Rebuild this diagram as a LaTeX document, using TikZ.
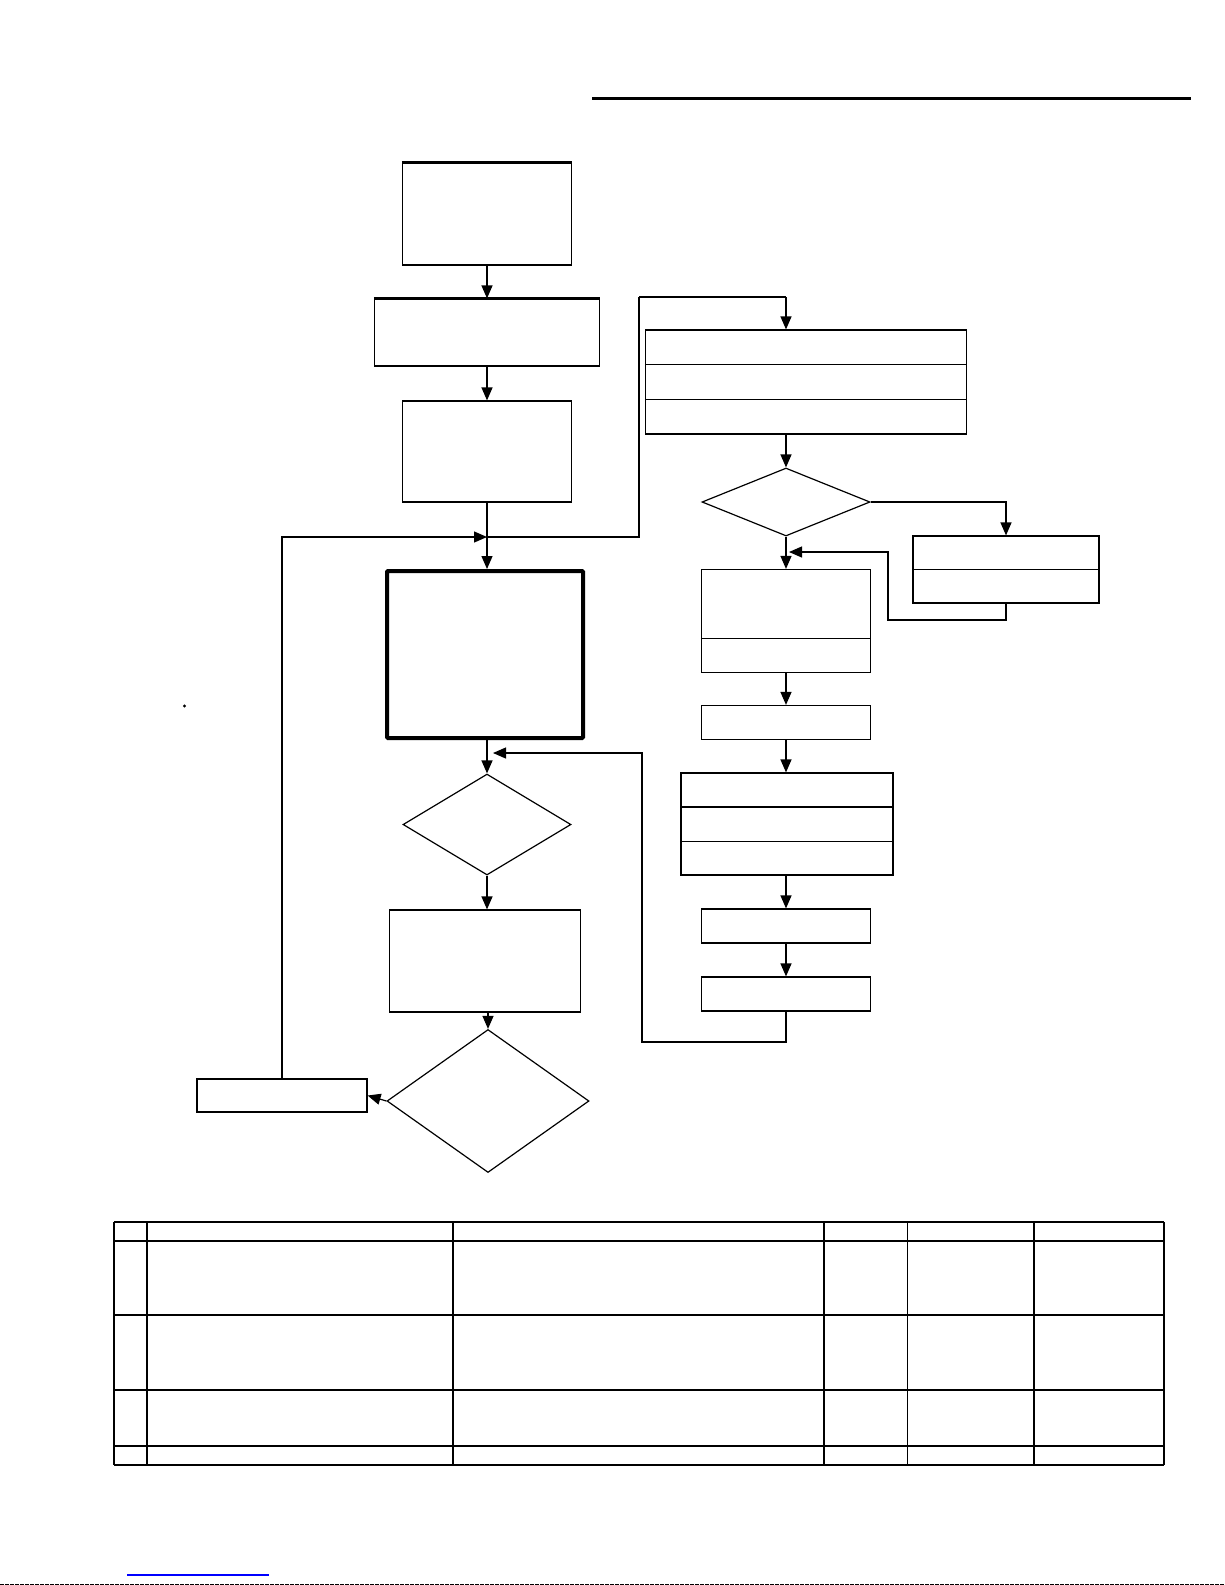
\documentclass[tikz,border=0pt]{standalone}
\usetikzlibrary{arrows.meta}
\usetikzlibrary{shapes.geometric}
\usetikzlibrary{calc}
\tikzset{>={Triangle[length=13pt,width=11pt]}}
\tikzset{
  box/.style={draw, line width=1.2pt, inner sep=0pt},
  test/.style={draw, diamond, line width=1.2pt, inner sep=0pt},
  link/.style={line width=1.2pt},
  heavy/.style={line width=2.2pt}
}

\begin{document}
\begin{tikzpicture}[x=1pt, y=-1pt]
      \useasboundingbox (0,0) rectangle (1225,1585);
      % rule at the top
      \draw[line width=3pt] (592,98) -- (1191,98);
      % left column
      \node[box, minimum width=169pt, minimum height=102pt] (start) at (487,214) {};
      \node[box, minimum width=225pt, minimum height=67pt] (prep) at (487,332.5) {};
      \node[box, minimum width=169pt, minimum height=101pt] (load) at (487,451.5) {};
      \node[box, line width=4pt, rounded corners=1pt, minimum width=196pt, minimum height=167pt] (run) at (485,654.5) {};
      \node[test, minimum width=168pt, minimum height=101pt] (check) at (487,824.5) {};
      \node[box, minimum width=191pt, minimum height=102pt] (measure) at (485,961) {};
      \node[test, minimum width=202pt, minimum height=143pt] (decide) at (488,1101) {};
      \node[box, minimum width=170pt, minimum height=33pt] (retry) at (282,1095.5) {};
      \draw[heavy] (start.north west) -- (start.north east);
      \draw[heavy] (prep.north west) -- (prep.north east);
      % right column
      \node[box, minimum width=321pt, minimum height=104pt] (setup) at (806,382) {};
      \node[test, minimum width=168pt, minimum height=68pt] (ask) at (786,502) {};
      \node[box, minimum width=186pt, minimum height=67pt] (fix) at (1006,569.5) {};
      \node[box, minimum width=169pt, minimum height=103pt] (adjust) at (786,621) {};
      \node[box, minimum width=169pt, minimum height=34pt] (trim) at (786,722.5) {};
      \node[box, minimum width=212pt, minimum height=102pt] (steps) at (787,824) {};
      \node[box, minimum width=169pt, minimum height=34pt] (store) at (786,926) {};
      \node[box, minimum width=169pt, minimum height=34pt] (finish) at (786,994) {};
      % dividers
      \foreach \f in {1/3, 2/3} {
        \draw[link] ($(setup.north west)!\f!(setup.south west)$) -- ($(setup.north east)!\f!(setup.south east)$);
      }
      \draw[heavy] ($(steps.north west)!1/3!(steps.south west)$) -- ($(steps.north east)!1/3!(steps.south east)$);
      \draw[link] ($(steps.north west)!2/3!(steps.south west)$) -- ($(steps.north east)!2/3!(steps.south east)$);
      \draw[link] (fix.west) -- (fix.east);
      \draw[link] ($(adjust.north west)!2/3!(adjust.south west)$) -- ($(adjust.north east)!2/3!(adjust.south east)$);
      % joins
      \coordinate (joinA) at (487,537);
      \coordinate (loopR) at (639,297);
      \coordinate (topR) at (786,297);
      \coordinate (joinB) at (493,753);
      \coordinate (backB) at (642,1042);
      \coordinate (joinC) at (789,552);
      \coordinate (backC) at (888,620);
      % arrows
      \draw[link, ->] (start) -- (prep);
      \draw[link, ->] (prep) -- (load);
      \draw[link, ->] (load.south) -- (load.south |- run.north);
      \draw[link, ->] (check.north |- run.south) -- (check.north);
      \draw[link, ->] (check.south) -- (measure.north -| check.south);
      \draw[link, ->] (measure.south -| decide.north) -- (decide.north);
      \draw[link, ->] (decide.west) -- (retry.east);
      \draw[link, ->] (retry.north) |- (joinA);
      \draw[link] (joinA) -| (loopR);
      \draw[heavy] (loopR) -- (topR);
      \draw[link, ->] (topR) -- (topR |- setup.north);
      \draw[link, ->] (setup.south -| ask.north) -- (ask.north);
      \draw[link, ->] (ask.east) -| (fix.north);
      \draw[link, ->] (ask.south) -- (adjust.north);
      \draw[link, ->] (fix.south) |- (backC) |- (joinC);
      \draw[link, ->] (adjust.south) -- (trim.north);
      \draw[link, ->] (trim.south) -- (steps.north -| trim.south);
      \draw[link, ->] (steps.south -| store.north) -- (store.north);
      \draw[link, ->] (store) -- (finish);
      \draw[link, ->] (finish.south) |- (backB) |- (joinB);
      % table
      \foreach \cx in {114, 147, 453, 824, 1034, 1164} {
        \draw[line width=1.4pt] (\cx,1222) -- (\cx,1465);
      }
      \draw[line width=0.8pt] (907,1222) -- (907,1465);
      \foreach \ry in {1222, 1241, 1315, 1390, 1446, 1465} {
        \draw[line width=1.4pt] (114,\ry) -- (1164,\ry);
      }
      % marks
      \fill (184.5,706) circle (1.6pt);
      \draw[blue, line width=1.3pt] (127,1575) -- (269,1575);
      \draw[line width=1pt, dash pattern=on 4pt off 1pt] (0,1584.5) -- (1225,1584.5);
\end{tikzpicture}
\end{document}
